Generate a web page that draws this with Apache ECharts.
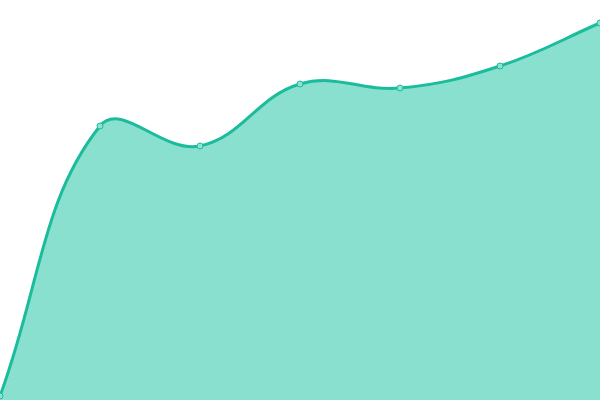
<!DOCTYPE html>
<html><head><meta charset="utf-8">
<script src="https://cdn.jsdelivr.net/npm/echarts@6/dist/echarts.min.js"></script>
<style>html,body{margin:0;padding:0;background:#fff}#c{width:600px;height:400px}</style>
</head><body><div id="c"></div>
<script>
const categories = ['A','B','C','D','E','F','G'];
const values = [4, 274, 254, 316, 312, 334, 377];
const TENSION = 0.4;

function buildPaths(api) {
  const P = values.map((v, i) => api.coord([i, v]));
  const n = P.length;
  const cpPrev = [], cpNext = [];
  for (let i = 0; i < n; i++) {
    const prev = P[Math.max(0, i - 1)];
    const next = P[Math.min(n - 1, i + 1)];
    const cur = P[i];
    const d01 = Math.hypot(cur[0] - prev[0], cur[1] - prev[1]);
    const d12 = Math.hypot(next[0] - cur[0], next[1] - cur[1]);
    const s = d01 + d12;
    const s01 = s ? d01 / s : 0, s12 = s ? d12 / s : 0;
    const fa = TENSION * s01, fb = TENSION * s12;
    cpPrev.push([cur[0] - fa * (next[0] - prev[0]), cur[1] - fa * (next[1] - prev[1])]);
    cpNext.push([cur[0] + fb * (next[0] - prev[0]), cur[1] + fb * (next[1] - prev[1])]);
  }
  let d = 'M' + P[0][0] + ' ' + P[0][1];
  for (let i = 0; i < n - 1; i++) {
    d += ' C' + cpNext[i][0] + ' ' + cpNext[i][1] + ' ' + cpPrev[i+1][0] + ' ' + cpPrev[i+1][1] + ' ' + P[i+1][0] + ' ' + P[i+1][1];
  }
  const base = api.coord([0, 0])[1];
  const area = d + ' L' + P[n-1][0] + ' ' + base + ' L' + P[0][0] + ' ' + base + ' Z';
  return {line: d, area: area};
}

const chart = echarts.init(document.getElementById('c'));
chart.setOption({
  animation: false,
  grid: {left: 0, right: 0, top: 0, bottom: 0},
  xAxis: {type: 'category', data: categories, boundaryGap: false, show: false},
  yAxis: {type: 'value', min: 0, max: 400, show: false},
  series: [{
    type: 'custom',
    data: values.map((v, i) => [i, v]),
    encode: {x: 0, y: 1},
    clip: false,
    z: 1,
    renderItem: function (params, api) {
      if (params.dataIndex !== 0) return null;
      const p = buildPaths(api);
      return {
        type: 'group',
        children: [
          {type: 'path', shape: {pathData: p.area}, style: {fill: '#89e0cf', stroke: null}},
          {type: 'path', shape: {pathData: p.line}, style: {fill: null, stroke: '#1abc9c', lineWidth: 3}}
        ]
      };
    }
  }, {
    type: 'line',
    data: values,
    z: 3,
    symbol: 'circle',
    symbolSize: 6,
    lineStyle: {width: 0, opacity: 0},
    itemStyle: {color: '#8ee2d2', borderColor: '#1abc9c', borderWidth: 1}
  }]
});
</script></body></html>
